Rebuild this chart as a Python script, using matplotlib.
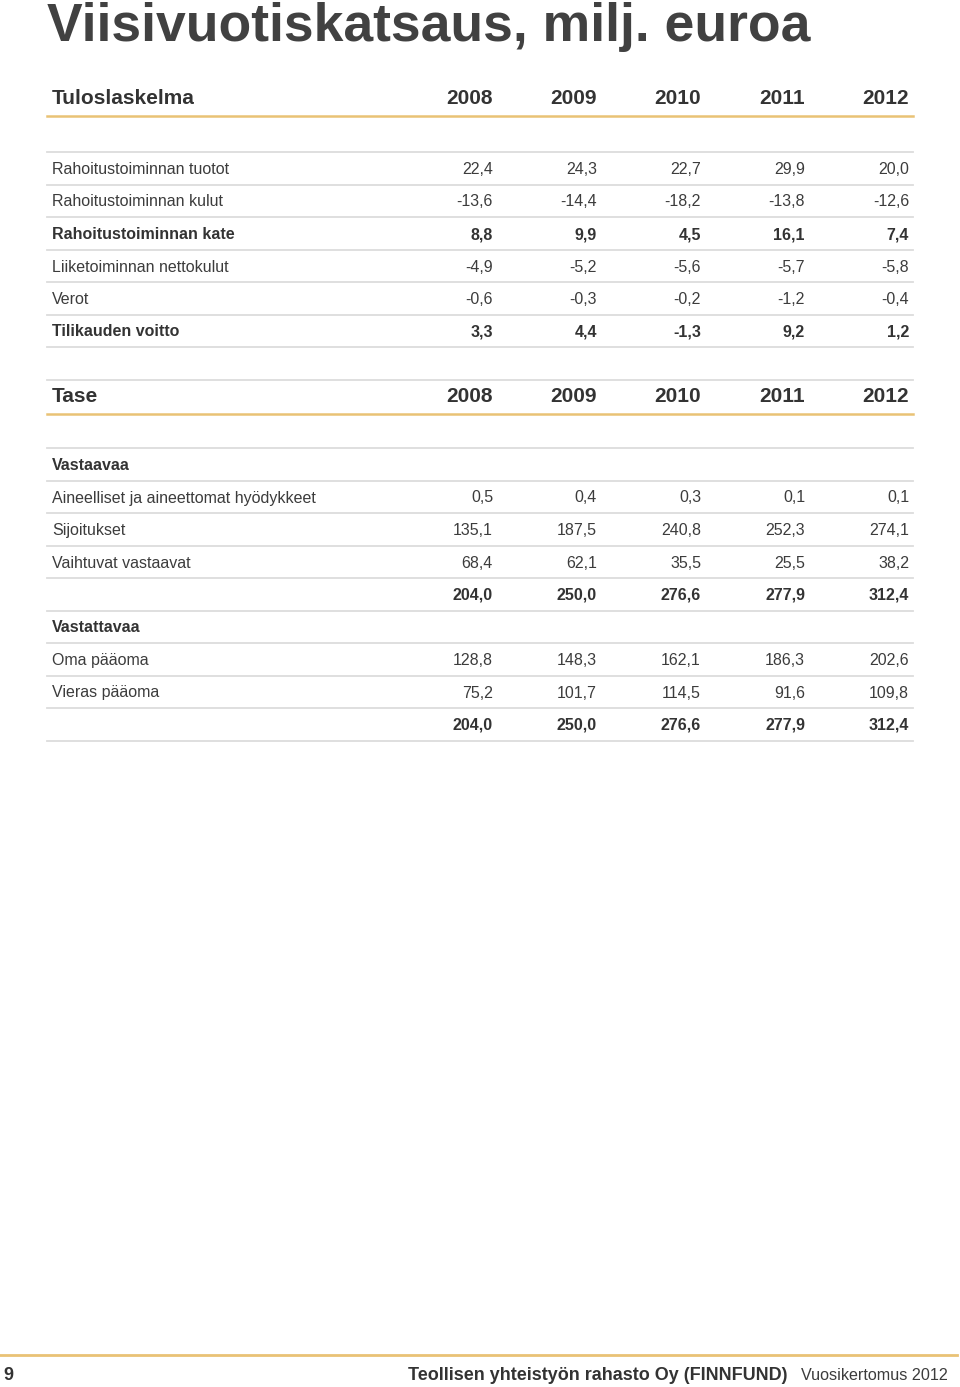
#!/usr/bin/env python3
"""Viisivuotiskatsaus - five year summary table as a matplotlib figure."""

import matplotlib.pyplot as plt

plt.rcParams['font.family'] = ['Liberation Sans', 'DejaVu Sans']

years = ['2008', '2009', '2010', '2011', '2012']

# Tuloslaskelma
tulos_labels = ['Rahoitustoiminnan tuotot', 'Rahoitustoiminnan kulut', 'Rahoitustoiminnan kate',
                'Liiketoiminnan nettokulut', 'Verot', 'Tilikauden voitto']
rahoitus_tuotot = [22.4, 24.3, 22.7, 29.9, 20.0]
rahoitus_kulut = [-13.6, -14.4, -18.2, -13.8, -12.6]
rahoitus_kate = [8.8, 9.9, 4.5, 16.1, 7.4]
liiketoiminta_kulut = [-4.9, -5.2, -5.6, -5.7, -5.8]
verot = [-0.6, -0.3, -0.2, -1.2, -0.4]
tilikauden_voitto = [3.3, 4.4, -1.3, 9.2, 1.2]
tulos_bold = [False, False, True, False, False, True]

# Tase
tase_labels = ['Vastaavaa', 'Aineelliset ja aineettomat hyödykkeet', 'Sijoitukset',
               'Vaihtuvat vastaavat', '', 'Vastattavaa', 'Oma pääoma', 'Vieras pääoma', '']
aineelliset = [0.5, 0.4, 0.3, 0.1, 0.1]
sijoitukset = [135.1, 187.5, 240.8, 252.3, 274.1]
vaihtuvat = [68.4, 62.1, 35.5, 25.5, 38.2]
vastaavaa_yht = [204.0, 250.0, 276.6, 277.9, 312.4]
oma_paaoma = [128.8, 148.3, 162.1, 186.3, 202.6]
vieras_paaoma = [75.2, 101.7, 114.5, 91.6, 109.8]
vastattavaa_yht = [204.0, 250.0, 276.6, 277.9, 312.4]
tase_bold = [True, False, False, False, True, True, False, False, True]

tulos_values = [rahoitus_tuotot, rahoitus_kulut, rahoitus_kate,
                liiketoiminta_kulut, verot, tilikauden_voitto]
tase_values = [None, aineelliset, sijoitukset, vaihtuvat, vastaavaa_yht,
               None, oma_paaoma, vieras_paaoma, vastattavaa_yht]

GOLD = '#e9c275'
GRAY_LINE = '#dcdcdc'
TEXT = '#3c3c3c'
DARK = '#333333'

col_x = [493, 597, 701, 805, 909]
left, right = 47, 913
row_h = 32.5
dy = 1.5  # text nudge so glyphs sit like the reference


def fmt(v):
    return f'{v:.1f}'.replace('.', ',')


fig = plt.figure(figsize=(9.6, 13.87), dpi=100)
ax = fig.add_axes([0, 0, 1, 1])
ax.set_xlim(0, 960)
ax.set_ylim(1387, 0)
ax.axis('off')

ax.text(47, 27, 'Viisivuotiskatsaus, milj. euroa', fontsize=38.5, fontweight='bold',
        color='#414141', va='center', ha='left')


def draw_table(title, header_y, labels, values, bold, first_row_y, top_line=None):
    if top_line is not None:
        ax.plot([left, right], [top_line, top_line], color=GRAY_LINE, lw=1.3)
    ax.text(52, header_y + dy, title, fontsize=15, fontweight='bold', color=DARK, va='center')
    for x, yr in zip(col_x, years):
        ax.text(x, header_y + dy, yr, fontsize=15, fontweight='bold', color=DARK,
                va='center', ha='right')
    ax.plot([left, right], [header_y + 19, header_y + 19], color=GOLD, lw=1.8)
    ax.plot([left, right], [first_row_y - 16, first_row_y - 16], color=GRAY_LINE, lw=1.3)
    for i, (lab, vals, b) in enumerate(zip(labels, values, bold)):
        y = first_row_y + i * row_h
        w = 'bold' if b else 'normal'
        c = DARK if b else TEXT
        ax.text(52, y + dy, lab, fontsize=11.5, fontweight=w, color=c, va='center')
        if vals is not None:
            for x, v in zip(col_x, vals):
                ax.text(x, y + dy, fmt(v), fontsize=11.5, fontweight=w, color=c,
                        va='center', ha='right')
        ax.plot([left, right], [y + 16.5, y + 16.5], color=GRAY_LINE, lw=1.3)


draw_table('Tuloslaskelma', 97, tulos_labels, tulos_values, tulos_bold, 168)
draw_table('Tase', 395, tase_labels, tase_values, tase_bold, 464, top_line=380)

# footer
ax.plot([0, 957], [1355, 1355], color=GOLD, lw=2)
ax.text(3, 1375, '9', fontsize=13, fontweight='bold', color=DARK, va='center')
ax.text(948, 1375, 'Vuosikertomus 2012', fontsize=11.6, color=TEXT, va='center', ha='right')
ax.text(788, 1375, 'Teollisen yhteistyön rahasto Oy (FINNFUND)', fontsize=13,
        fontweight='bold', color=DARK, va='center', ha='right')

fig.savefig('out.png', dpi=100)
